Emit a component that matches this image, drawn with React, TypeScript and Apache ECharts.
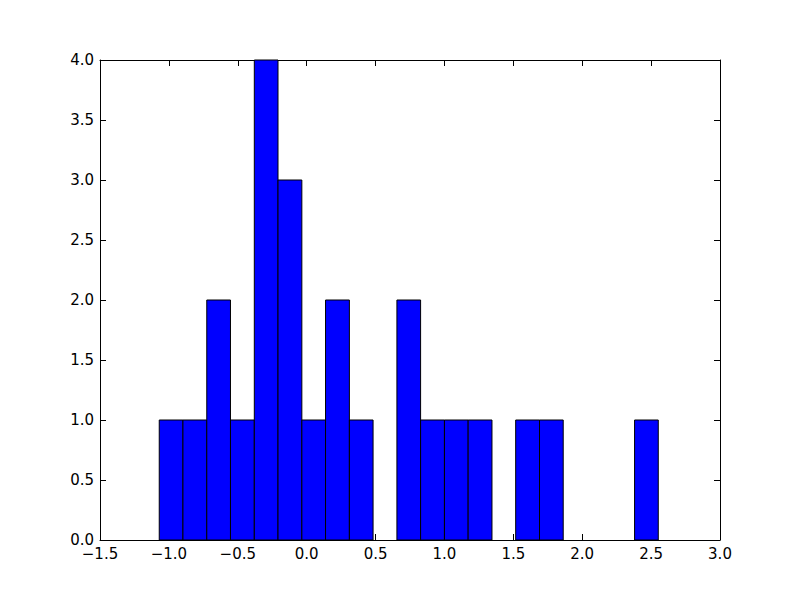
import React, { useEffect, useRef } from "react";
import * as echarts from "echarts";

// Histogram bin edges (21 bins) and counts
const binEdges = [
  -1.070, -0.898, -0.725, -0.553, -0.380, -0.208, -0.035, 0.137, 0.310, 0.482,
  0.655, 0.827, 1.000, 1.172, 1.345, 1.517, 1.690, 1.862, 2.035, 2.207, 2.380, 2.552,
];
const counts = [1, 1, 2, 1, 4, 3, 1, 2, 1, 0, 2, 1, 1, 1, 0, 1, 1, 0, 0, 0, 1];

const xMin = -1.5;
const xMax = 3.0;
const xStep = 0.5;
const yMin = 0;
const yMax = 4.0;
const yStep = 0.5;

const fmt = (v: number) => v.toFixed(1).replace("-", "\u2212");

export default function App() {
  const ref = useRef<HTMLDivElement>(null);
  useEffect(() => {
    if (!ref.current) return;
    const chart = echarts.init(ref.current, null, { renderer: "svg" });
    const data = counts.map((c, i) => [binEdges[i], binEdges[i + 1], c]);
    const font = "DejaVu Sans";
    const axisLine = { show: true, onZero: false, lineStyle: { color: "#000", width: 1 } };
    const ticks = { show: true, inside: true, length: 6, lineStyle: { color: "#000", width: 1 } };
    chart.setOption({
      animation: false,
      backgroundColor: "#fff",
      grid: { left: 100, right: 80, top: 60, bottom: 60, show: false },
      xAxis: [
        {
          type: "value", min: xMin, max: xMax, interval: xStep, position: "bottom",
          axisLine, axisTick: ticks, splitLine: { show: false },
          axisLabel: { formatter: fmt, color: "#000", fontFamily: font, fontSize: 15, margin: 6 },
        },
        {
          type: "value", min: xMin, max: xMax, interval: xStep, position: "top",
          axisLine, axisTick: ticks, splitLine: { show: false }, axisLabel: { show: false },
        },
      ],
      yAxis: [
        {
          type: "value", min: yMin, max: yMax, interval: yStep, position: "left",
          axisLine, axisTick: ticks, splitLine: { show: false },
          axisLabel: { formatter: fmt, color: "#000", fontFamily: font, fontSize: 15, margin: 6 },
        },
        {
          type: "value", min: yMin, max: yMax, interval: yStep, position: "right",
          axisLine, axisTick: ticks, splitLine: { show: false }, axisLabel: { show: false },
        },
      ],
      series: [
        {
          type: "custom",
          xAxisIndex: 0,
          yAxisIndex: 0,
          data,
          renderItem: (params: any, api: any) => {
            const x0 = api.value(0);
            const x1 = api.value(1);
            const h = api.value(2);
            if (h <= 0) return null;
            const p0 = api.coord([x0, h]);
            const p1 = api.coord([x1, 0]);
            return {
              type: "rect",
              shape: { x: p0[0], y: p0[1], width: p1[0] - p0[0], height: p1[1] - p0[1] },
              style: { fill: "#0000ff", stroke: "#000", lineWidth: 1 },
            };
          },
        },
      ],
    });
    return () => chart.dispose();
  }, []);
  return (
    <div
      ref={ref}
      style={{ position: "fixed", left: 0, top: 0, width: 800, height: 600, background: "#fff" }}
    />
  );
}
